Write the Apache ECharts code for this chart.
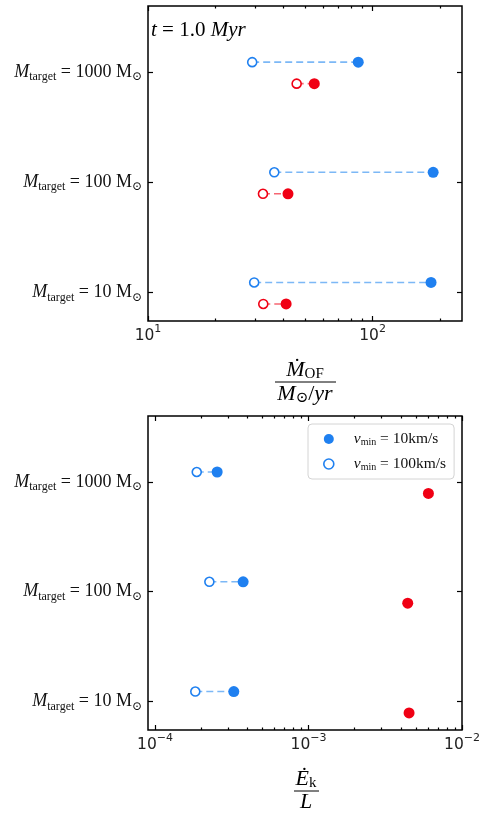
<!DOCTYPE html>
<html>
<head>
<meta charset="utf-8">
<script src="https://cdn.jsdelivr.net/npm/echarts@6/dist/echarts.min.js"></script>
<style>
  html, body { margin: 0; padding: 0; background: #ffffff; }
  #chart { width: 480px; height: 813px; }
</style>
</head>
<body>
<div id="chart"></div>
<script>
// Target masses, one row each (row index 0, 1, 2 from the bottom)
const targetMasses = ['10', '100', '1000'];

// Outflow rate Mdot_OF [Msun/yr] at t = 1 Myr
const mdotBlueV10 = [182, 186, 86.3];
const mdotBlueV100 = [29.7, 36.5, 29.1];
const mdotRedV10 = [41.2, 42.0, 55.0];
const mdotRedV100 = [32.6, 32.5, 45.9];

// Kinetic energy rate over luminosity, Edot_k / L
const ekBlueV10 = [3.26e-4, 3.75e-4, 2.54e-4];
const ekBlueV100 = [1.83e-4, 2.26e-4, 1.87e-4];
const ekRedV10 = [4.52e-3, 4.43e-3, 6.04e-3];

// Axis ticks
const rowTicks = [0, 1, 2];
const mdotMajorTicks = [10, 100];
const mdotMinorTicks = [20, 30, 40, 50, 60, 70, 80, 90, 200];
const ekMajorTicks = [1e-4, 1e-3, 1e-2];
const ekMinorTicks = [2e-4, 3e-4, 4e-4, 5e-4, 6e-4, 7e-4, 8e-4, 9e-4,
                      2e-3, 3e-3, 4e-3, 5e-3, 6e-3, 7e-3, 8e-3, 9e-3];

const legendNames = ['v10', 'v100'];

const BLUE = '#1f80f0';
const BLUE_LINE = '#7cb8f6';
const RED = '#f00014';
const RED_LINE = 'rgba(240,0,20,0.6)';
const SERIF = '"Liberation Serif", "DejaVu Serif", serif';
const SANS = '"DejaVu Sans", sans-serif';
const UP = 0.09, DOWN = -0.105;

const chart = echarts.init(document.getElementById('chart'), null, { renderer: 'canvas' });

const grids = [
  { left: 148, top: 6, width: 314, height: 315 },
  { left: 148, top: 416, width: 314, height: 314 }
];

function powLabel(v) {
  const e = Math.round(Math.log10(v));
  if (Math.abs(Math.log10(v) - e) > 1e-6) return '';
  return '{b|10}{s|' + String(e).replace('-', '\u2212') + '}';
}

const tickRich = {
  b: { fontFamily: SANS, fontSize: 15.5, color: '#222', lineHeight: 20, verticalAlign: 'bottom' },
  s: { fontFamily: SANS, fontSize: 11, color: '#222', lineHeight: 11, verticalAlign: 'top' }
};

function xAxesFor(gi, min, max, major, minor) {
  const base = {
    type: 'log', logBase: 10, gridIndex: gi, min: min, max: max,
    axisLine: { show: false, onZero: false }, splitLine: { show: false }, minorTick: { show: false }
  };
  const tick = (vals, len) => ({ show: true, inside: true, length: len, customValues: vals,
    lineStyle: { color: '#000', width: 1.2 } });
  return [
    Object.assign({}, base, { position: 'bottom', axisTick: tick(major, 5),
      axisLabel: { show: true, customValues: major, margin: 3, formatter: powLabel, rich: tickRich } }),
    Object.assign({}, base, { position: 'bottom', axisTick: tick(minor, 2.5), axisLabel: { show: false } }),
    Object.assign({}, base, { position: 'top', axisTick: tick(major, 5), axisLabel: { show: false } }),
    Object.assign({}, base, { position: 'top', axisTick: tick(minor, 2.5), axisLabel: { show: false } })
  ];
}

const rowRich = {
  i: { fontFamily: SERIF, fontStyle: 'italic', fontSize: 18, color: '#111', lineHeight: 22 },
  r: { fontFamily: SERIF, fontSize: 18, color: '#111', lineHeight: 22 },
  sub: { fontFamily: SERIF, fontSize: 12, color: '#111', lineHeight: 12, verticalAlign: 'bottom' }
};

function yAxesFor(gi) {
  const base = {
    type: 'value', gridIndex: gi, min: -0.26, max: 2.6,
    axisLine: { show: false, onZero: false }, splitLine: { show: false }
  };
  const tick = { show: true, inside: true, length: 5, customValues: rowTicks,
    lineStyle: { color: '#000', width: 1.2 } };
  return [
    Object.assign({}, base, { position: 'left', axisTick: tick,
      axisLabel: { show: true, customValues: rowTicks, margin: 6,
        formatter: v => '{i|M}{sub|target}{r| = ' + targetMasses[Math.round(v)] + ' M}{sub|\u2299}',
        rich: rowRich } }),
    Object.assign({}, base, { position: 'right', axisTick: tick, axisLabel: { show: false } })
  ];
}

const series = [];

function segment(gi, xa, xb, y, color) {
  series.push({
    type: 'line', xAxisIndex: gi * 4, yAxisIndex: gi * 2, z: 2,
    data: [[xa, y], [xb, y]], symbol: 'none', silent: true,
    lineStyle: { color: color, width: 1.6, type: [7, 4] }
  });
}

function markers(gi, xs, offset, name, filled, color) {
  series.push({
    type: 'scatter', name: name, xAxisIndex: gi * 4, yAxisIndex: gi * 2, z: 3,
    symbol: 'circle', symbolSize: filled ? 11 : 9,
    data: xs.map((x, i) => [x, i + offset]),
    itemStyle: filled ? { color: color, opacity: 1 }
                      : { color: '#ffffff', borderColor: color, borderWidth: 1.6, opacity: 1 }
  });
}

// Upper panel: outflow rate
for (let i = 0; i < targetMasses.length; i++) {
  segment(0, mdotBlueV100[i], mdotBlueV10[i], i + UP, BLUE_LINE);
  segment(0, mdotRedV100[i], mdotRedV10[i], i + DOWN, RED_LINE);
}
markers(0, mdotBlueV10, UP, 'v10', true, BLUE);
markers(0, mdotBlueV100, UP, 'v100', false, BLUE);
markers(0, mdotRedV10, DOWN, 'red v10', true, RED);
markers(0, mdotRedV100, DOWN, 'red v100', false, RED);

// Lower panel: kinetic energy over luminosity
for (let i = 0; i < targetMasses.length; i++) {
  segment(1, ekBlueV100[i], ekBlueV10[i], i + UP, BLUE_LINE);
}
markers(1, ekBlueV10, UP, 'v10', true, BLUE);
markers(1, ekBlueV100, UP, 'v100', false, BLUE);
markers(1, ekRedV10, DOWN, 'red v10', true, RED);

const legendRich = {
  g: { width: 15 },
  i: { fontFamily: SERIF, fontStyle: 'italic', fontSize: 15.5, color: '#111', lineHeight: 16 },
  sub: { fontFamily: SERIF, fontSize: 10, color: '#111', lineHeight: 10, verticalAlign: 'bottom' },
  r: { fontFamily: SERIF, fontSize: 15.5, color: '#111', lineHeight: 16 }
};
const legendText = { v10: '10km/s', v100: '100km/s' };

const fracRich = {
  i: { fontFamily: SERIF, fontStyle: 'italic', fontSize: 22, color: '#111', lineHeight: 24 },
  r: { fontFamily: SERIF, fontSize: 22, color: '#111', lineHeight: 24 },
  sub: { fontFamily: SERIF, fontSize: 15, color: '#111', lineHeight: 15, verticalAlign: 'bottom' }
};

const option = {
  animation: false,
  backgroundColor: '#ffffff',
  grid: grids.map(g => Object.assign({ show: true, borderColor: '#000', borderWidth: 1.5,
    backgroundColor: 'transparent', containLabel: false, outerBoundsMode: 'none' }, g)),
  xAxis: [].concat(
    xAxesFor(0, 10, 250, mdotMajorTicks, mdotMinorTicks),
    xAxesFor(1, 9e-5, 1e-2, ekMajorTicks, ekMinorTicks)
  ),
  yAxis: [].concat(yAxesFor(0), yAxesFor(1)),
  legend: {
    orient: 'vertical', left: 308, top: 424,
    backgroundColor: '#ffffff', borderColor: '#d4d4d4', borderWidth: 1, borderRadius: 4,
    padding: [7, 8, 7, 15], itemWidth: 10, itemHeight: 10, itemGap: 9,
    selectedMode: false,
    data: [
      { name: legendNames[0], icon: 'circle', itemStyle: { color: BLUE, borderWidth: 0 } },
      { name: legendNames[1], icon: 'circle',
        itemStyle: { color: '#ffffff', borderColor: BLUE, borderWidth: 1.6 } }
    ],
    formatter: n => '{g|}{i|v}{sub|min}{r| = ' + legendText[n] + '}',
    textStyle: { rich: legendRich }
  },
  graphic: [
    { type: 'text', left: 151, top: 20,
      style: { text: '{i|t}{r| = 1.0 }{i|Myr}', rich: {
        i: { fontFamily: SERIF, fontStyle: 'italic', fontSize: 21, color: '#111' },
        r: { fontFamily: SERIF, fontSize: 21, color: '#111' } } } },
    // x title, upper panel
    { type: 'text', x: 305, y: 370,
      style: { text: '{i|\u1E40}{sub|OF}', align: 'center', verticalAlign: 'middle', rich: fracRich } },
    { type: 'line', shape: { x1: 275, y1: 382, x2: 336, y2: 382 }, style: { stroke: '#000', lineWidth: 1 } },
    { type: 'text', x: 305, y: 394,
      style: { text: '{i|M}{sub|\u2299}{r|/}{i|yr}', align: 'center', verticalAlign: 'middle', rich: fracRich } },
    // x title, lower panel
    { type: 'text', x: 306, y: 779,
      style: { text: '{i|\u0116}{sub|k}', align: 'center', verticalAlign: 'middle', rich: fracRich } },
    { type: 'line', shape: { x1: 294, y1: 791, x2: 319, y2: 791 }, style: { stroke: '#000', lineWidth: 1 } },
    { type: 'text', x: 306, y: 802,
      style: { text: '{i|L}', align: 'center', verticalAlign: 'middle', rich: fracRich } }
  ],
  series: series
};

chart.setOption(option);
</script>
</body>
</html>
